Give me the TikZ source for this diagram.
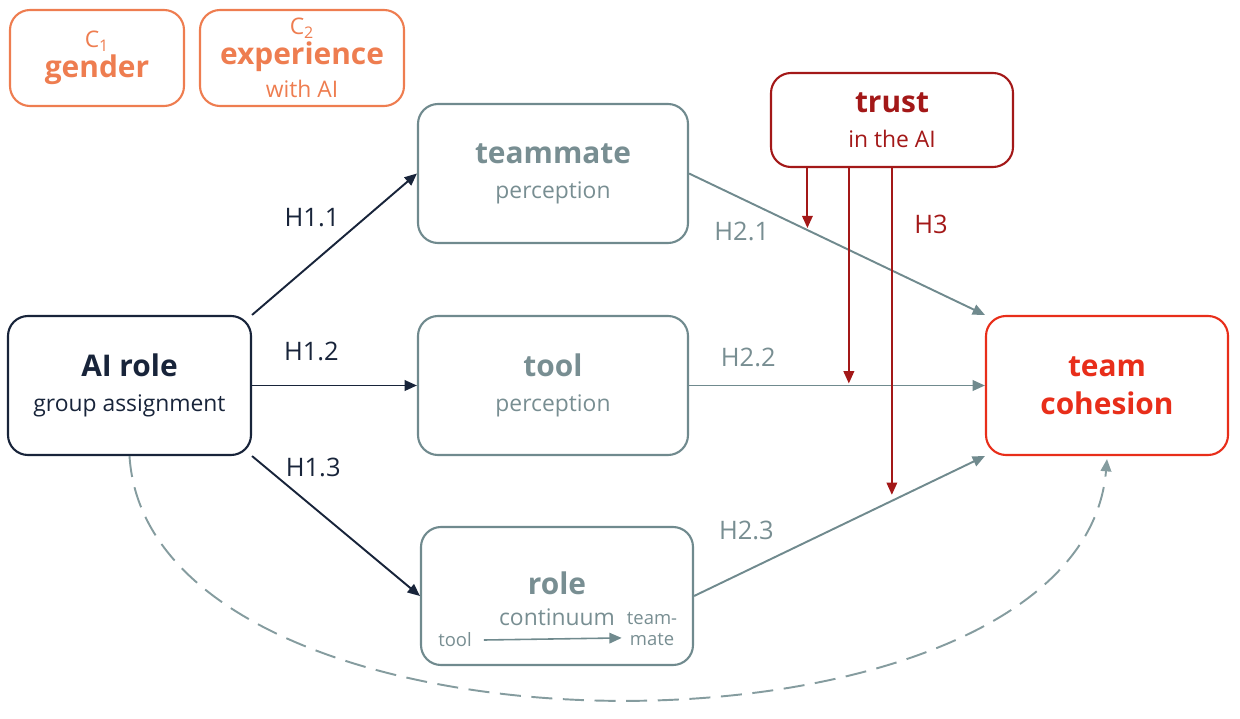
\documentclass[tikz,border=0pt]{standalone}
\usepackage{fontspec}
\setmainfont{Open Sans}
\usetikzlibrary{arrows.meta,positioning,calc}

\definecolor{corange}{RGB}{238,125,80}
\definecolor{cnavy}{RGB}{24,36,58}
\definecolor{cgray}{RGB}{112,138,142}
\definecolor{cgraytxt}{RGB}{120,142,146}
\definecolor{ctrust}{RGB}{163,24,24}
\definecolor{cred}{RGB}{232,46,26}

\newcommand{\boxtitle}[1]{{\bfseries\fontsize{17}{20}\selectfont #1}}
\newcommand{\boxsub}[1]{{\fontsize{13}{16}\selectfont #1}}

\begin{document}
\begin{tikzpicture}[
        every node/.style={font=\fontsize{14}{16}\selectfont},
        rbox/.style={draw, rounded corners=0.4cm, line width=1.2pt, align=center, inner sep=0pt},
        cbox/.style={rbox, corange, text=corange, minimum width=3.48cm, minimum height=1.92cm},
        medbox/.style={rbox, cgray, text=cgraytxt, minimum width=5.4cm, minimum height=2.78cm},
        ivbox/.style={rbox, cnavy, text=cnavy, minimum width=4.86cm, minimum height=2.78cm},
        dvbox/.style={rbox, cred, text=cred, minimum width=4.84cm, minimum height=2.78cm},
        modbox/.style={rbox, ctrust, text=ctrust, minimum width=4.84cm, minimum height=1.88cm},
        tip/.style={-{Triangle[length=7pt,width=6pt]}},
        apath/.style={tip, line width=1.1pt, cnavy},
        bpath/.style={tip, line width=1.1pt, cgray},
        mpath/.style={tip, line width=1.1pt, ctrust},
        hlab/.style={font=\fontsize{14.5}{16}\selectfont}
      ]
        % Rahmen
        \useasboundingbox (0,0) rectangle (24.8,-14.38);

        % Kontrollvariablen
        \node[cbox] (gender) at (1.94,-1.16) {{\fontsize{13}{14}\selectfont C\textsubscript{1}}\\[1pt]\boxtitle{gender}};
        \node[cbox, minimum width=4.08cm] (experience) at (6.04,-1.16)
          {{\fontsize{13}{14}\selectfont C\textsubscript{2}}\\[1pt]\boxtitle{experience}\\[3pt]\boxsub{with AI}};

        % Knoten
        \node[ivbox] (airole) at (2.59,-7.71) {\boxtitle{AI role}\\[4pt]\boxsub{group assignment}};
        \node[medbox] (teammate) at (11.06,-3.47) {\boxtitle{teammate}\\[4pt]\boxsub{perception}};
        \node[medbox] (tool) at (11.06,-7.71) {\boxtitle{tool}\\[4pt]\boxsub{perception}};
        \node[medbox, minimum width=5.44cm, minimum height=2.76cm] (role) at (11.14,-11.92) {};
        \node[dvbox] (cohesion) at (22.14,-7.71) {\boxtitle{team}\\[5.5pt]\boxtitle{cohesion}};
        \node[modbox] (trust) at (17.84,-2.40) {\boxtitle{trust}\\[4pt]\boxsub{in the AI}};

        % Rollenkontinuum
        \node[text=cgraytxt] (roletitle) at ($(role.center)+(0,0.26)$) {\boxtitle{role}};
        \node[text=cgraytxt] (rolecont) at ($(role.center)+(0,-0.42)$) {\boxsub{continuum}};
        \node[text=cgraytxt, font=\fontsize{10.5}{12}\selectfont] (roletool) at ($(role.center)+(-2.04,-0.88)$) {tool};
        \node[text=cgraytxt, font=\fontsize{10.5}{12}\selectfont, align=center] (rolemate) at ($(role.center)+(1.90,-0.66)$) {team-\\mate};
        \draw[bpath, line width=0.9pt] (roletool.east) ++(0.12,0) coordinate (rs) -- ($(rolemate.south west)+(0.02,0.28)$) coordinate (re);

        % Pfade H1
        \draw[apath] (airole.north east) -- (teammate.west) node[pos=0.4, shift={(-0.12,0.82)}, text=cnavy, hlab] (h11) {H1.1};
        \draw[apath] (airole.east) -- (tool.west) node[pos=0.36, above=10pt, text=cnavy, hlab] (h12) {H1.2};
        \draw[apath] (airole.south east) -- (role.west) node[pos=0.4, shift={(-0.12,0.9)}, text=cnavy, hlab] (h13) {H1.3};

        % Pfade H2
        \draw[bpath] (teammate.east) -- (cohesion.north west) coordinate[pos=0.4] (m1)
          node[pos=0.2, shift={(-0.13,-0.6)}, text=cgraytxt, hlab] (h21) {H2.1};
        \draw[bpath] (tool.east) -- (cohesion.west) coordinate[pos=0.54] (m2)
          node[pos=0.2, above=7pt, text=cgraytxt, hlab] (h22) {H2.2};
        \draw[bpath] (role.east) -- (cohesion.south west) coordinate[pos=0.68] (m3)
          node[pos=0.18, above=14pt, text=cgraytxt, hlab] (h23) {H2.3};

        % Moderation H3
        \draw[mpath] (trust.south -| m1) -- ($(m1)+(0,0.04)$);
        \draw[mpath] (trust.south -| m2) -- ($(m2)+(0,0.04)$);
        \draw[mpath] (trust.south -| m3) -- ($(m3)+(0,0.12)$);
        \node[text=ctrust, hlab] (h3) at (18.62,-4.48) {H3};

        % direkter Effekt
        \draw[tip, line width=1.1pt, cgray!85, dash pattern=on 12pt off 6pt]
          (airole.south) .. controls (3.0,-15.6) and (21.6,-15.6) .. ($(cohesion.south)+(0,-0.06)$);
      \end{tikzpicture}
\end{document}
